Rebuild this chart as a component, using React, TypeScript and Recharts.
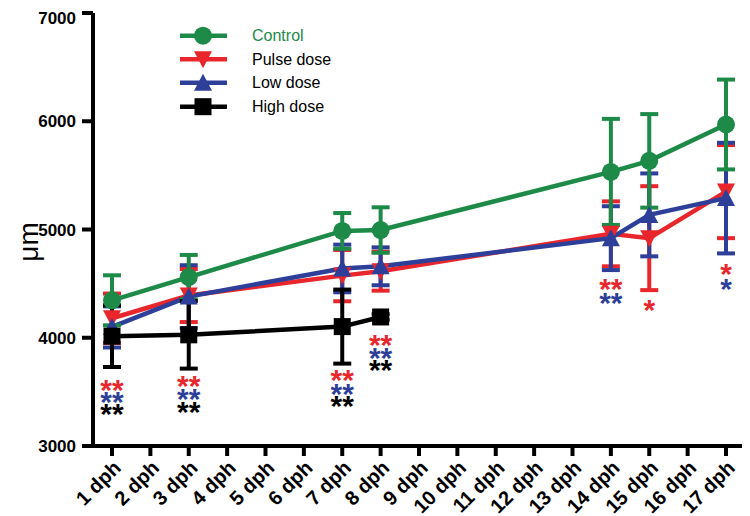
import React from 'react';
import { ComposedChart, Line, XAxis, YAxis, ErrorBar, ReferenceDot } from 'recharts';

// ---------- data ----------
const categories = [
  '1 dph', '2 dph', '3 dph', '4 dph', '5 dph', '6 dph', '7 dph', '8 dph', '9 dph',
  '10 dph', '11 dph', '12 dph', '13 dph', '14 dph', '15 dph', '16 dph', '17 dph',
];
const sampledDays = ['1 dph', '3 dph', '7 dph', '8 dph', '14 dph', '15 dph', '17 dph'];

const controlMean = [4346, 4560, 4987, 4995, 5532, 5634, 5970];
const controlErr = [231, 205, 165, 210, 490, 432, 415];
const pulseMean = [4180, 4390, 4574, 4615, 4960, 4920, 5350];
const pulseErr = [228, 245, 237, 180, 300, 480, 430];
const lowMean = [4100, 4380, 4640, 4660, 4920, 5135, 5290];
const lowErr = [190, 290, 220, 175, 295, 383, 511];
const highMean = [4015, 4027, 4103, 4192];
const highErr = [285, 312, 342, 25];

const yTicks = [3000, 4000, 5000, 6000, 7000];

// significance marks (level = where the row of stars sits, in µm)
const pulseMarks = ['**', '**', '**', '**', '**', '*', '*'];
const pulseMarkLevel = [3580, 3617, 3675, 3998, 4513, 4322, 4652];
const lowMarks = ['**', '**', '**', '**', '**', '', '*'];
const lowMarkLevel = [3469, 3497, 3543, 3875, 4384, 0, 4516];
const highMarks = ['**', '**', '**', '**'];
const highMarkLevel = [3358, 3376, 3432, 3764];

const seriesNames = ['Control', 'Pulse dose', 'Low dose', 'High dose'];

// ---------- styles ----------
const GREEN = '#1d8a48';
const RED = '#e8262b';
const BLUE = '#2e3f99';
const BLACK = '#000000';
const FONT = 'Liberation Sans, Arial, Helvetica, sans-serif';

const data = categories.map((day) => {
  const i = sampledDays.indexOf(day);
  const pick = (arr: number[]) => (i >= 0 && i < arr.length ? arr[i] : null);
  return {
    day,
    control: pick(controlMean),
    controlErr: pick(controlErr),
    pulse: pick(pulseMean),
    pulseErr: pick(pulseErr),
    low: pick(lowMean),
    lowErr: pick(lowErr),
    high: pick(highMean),
    highErr: pick(highErr),
  };
});

const CircleDot = (p: any) =>
  p.cy == null || p.value == null ? <g key={p.key} /> : (
    <circle key={p.key} cx={p.cx} cy={p.cy} r={9} fill={GREEN} />
  );
const TriDown = (p: any) =>
  p.cy == null || p.value == null ? <g key={p.key} /> : (
    <polygon
      key={p.key}
      points={`${p.cx - 9},${p.cy - 8} ${p.cx + 9},${p.cy - 8} ${p.cx},${p.cy + 9}`}
      fill={RED}
    />
  );
const TriUp = (p: any) =>
  p.cy == null || p.value == null ? <g key={p.key} /> : (
    <polygon
      key={p.key}
      points={`${p.cx - 9},${p.cy + 8} ${p.cx + 9},${p.cy + 8} ${p.cx},${p.cy - 9}`}
      fill={BLUE}
    />
  );
const SquareDot = (p: any) =>
  p.cy == null || p.value == null ? <g key={p.key} /> : (
    <rect key={p.key} x={p.cx - 8.5} y={p.cy - 8.5} width={17} height={17} fill={BLACK} />
  );

const starShape = (text: string, color: string) => (p: any) => (
  <text
    x={p.cx}
    y={p.cy + 17}
    textAnchor="middle"
    fill={color}
    fontSize={30}
    fontWeight="bold"
    fontFamily={FONT}
  >
    {text}
  </text>
);

const marks: { day: string; text: string; color: string; level: number }[] = [];
pulseMarks.forEach((t, i) => t && marks.push({ day: sampledDays[i], text: t, color: RED, level: pulseMarkLevel[i] }));
lowMarks.forEach((t, i) => t && marks.push({ day: sampledDays[i], text: t, color: BLUE, level: lowMarkLevel[i] }));
highMarks.forEach((t, i) => t && marks.push({ day: sampledDays[i], text: t, color: BLACK, level: highMarkLevel[i] }));

const legendColors = [GREEN, RED, BLUE, BLACK];
const legendMarker = (i: number, cx: number, cy: number) => {
  if (i === 0) return <circle cx={cx} cy={cy} r={9} fill={GREEN} />;
  if (i === 1) return <polygon points={`${cx - 9},${cy - 8} ${cx + 9},${cy - 8} ${cx},${cy + 9}`} fill={RED} />;
  if (i === 2) return <polygon points={`${cx - 9},${cy + 8} ${cx + 9},${cy + 8} ${cx},${cy - 9}`} fill={BLUE} />;
  return <rect x={cx - 8.5} y={cy - 8.5} width={17} height={17} fill={BLACK} />;
};

export default function App() {
  const axisStroke = { stroke: '#000', strokeWidth: 4 };
  return (
    <div style={{ position: 'relative', width: 742, height: 508 }}>
      <ComposedChart
        width={742}
        height={508}
        data={data}
        margin={{ top: 5, right: 5, bottom: 0, left: 0 }}
      >
        <XAxis
          dataKey="day"
          interval={0}
          angle={-45}
          textAnchor="end"
          height={70}
          tickSize={10}
          tickMargin={3}
          padding={{ left: 19, right: 19 }}
          axisLine={axisStroke}
          tickLine={axisStroke}
          tick={{ fill: '#000', fontSize: 20, fontWeight: 'bold', fontFamily: FONT }}
        />
        <YAxis
          type="number"
          domain={[3000, 7000]}
          ticks={yTicks}
          width={85}
          tickSize={11}
          tickMargin={6}
          axisLine={axisStroke}
          tickLine={axisStroke}
          tick={{ fill: '#000', fontSize: 17, fontWeight: 'bold', fontFamily: FONT }}
        />
        <Line
          dataKey="pulse"
          name={seriesNames[1]}
          stroke={RED}
          strokeWidth={4.5}
          connectNulls
          isAnimationActive={false}
          dot={TriDown}
          activeDot={false}
        >
          <ErrorBar dataKey="pulseErr" direction="y" width={9} strokeWidth={4} stroke={RED} />
        </Line>
        <Line
          dataKey="low"
          name={seriesNames[2]}
          stroke={BLUE}
          strokeWidth={4.5}
          connectNulls
          isAnimationActive={false}
          dot={TriUp}
          activeDot={false}
        >
          <ErrorBar dataKey="lowErr" direction="y" width={9} strokeWidth={4} stroke={BLUE} />
        </Line>
        <Line
          dataKey="control"
          name={seriesNames[0]}
          stroke={GREEN}
          strokeWidth={4.5}
          connectNulls
          isAnimationActive={false}
          dot={CircleDot}
          activeDot={false}
        >
          <ErrorBar dataKey="controlErr" direction="y" width={9} strokeWidth={4} stroke={GREEN} />
        </Line>
        <Line
          dataKey="high"
          name={seriesNames[3]}
          stroke={BLACK}
          strokeWidth={4.5}
          connectNulls
          isAnimationActive={false}
          dot={SquareDot}
          activeDot={false}
        >
          <ErrorBar dataKey="highErr" direction="y" width={9} strokeWidth={4} stroke={BLACK} />
        </Line>
        {marks.map((m, i) => (
          <ReferenceDot
            key={`m${i}`}
            x={m.day}
            y={m.level}
            r={0}
            shape={starShape(m.text, m.color)}
          />
        ))}
      </ComposedChart>
      <svg
        width={742}
        height={508}
        style={{ position: 'absolute', left: 0, top: 0, pointerEvents: 'none' }}
      >
        <text
          x={30}
          y={234}
          transform="rotate(-90, 30, 234)"
          textAnchor="middle"
          fontSize={28}
          fontFamily={FONT}
          fill="#000"
        >
          μm
        </text>
        {seriesNames.map((name, i) => {
          const cy = [27.7, 51.3, 74.7, 98.7][i];
          return (
            <g key={name}>
              <line x1={172} x2={219} y1={cy} y2={cy} stroke={legendColors[i]} strokeWidth={4.5} />
              {legendMarker(i, 195, cy)}
              <text
                x={244}
                y={cy + 5.5}
                fontSize={16}
                fontFamily={FONT}
                fill={i === 0 ? GREEN : '#000'}
              >
                {name}
              </text>
            </g>
          );
        })}
      </svg>
    </div>
  );
}
